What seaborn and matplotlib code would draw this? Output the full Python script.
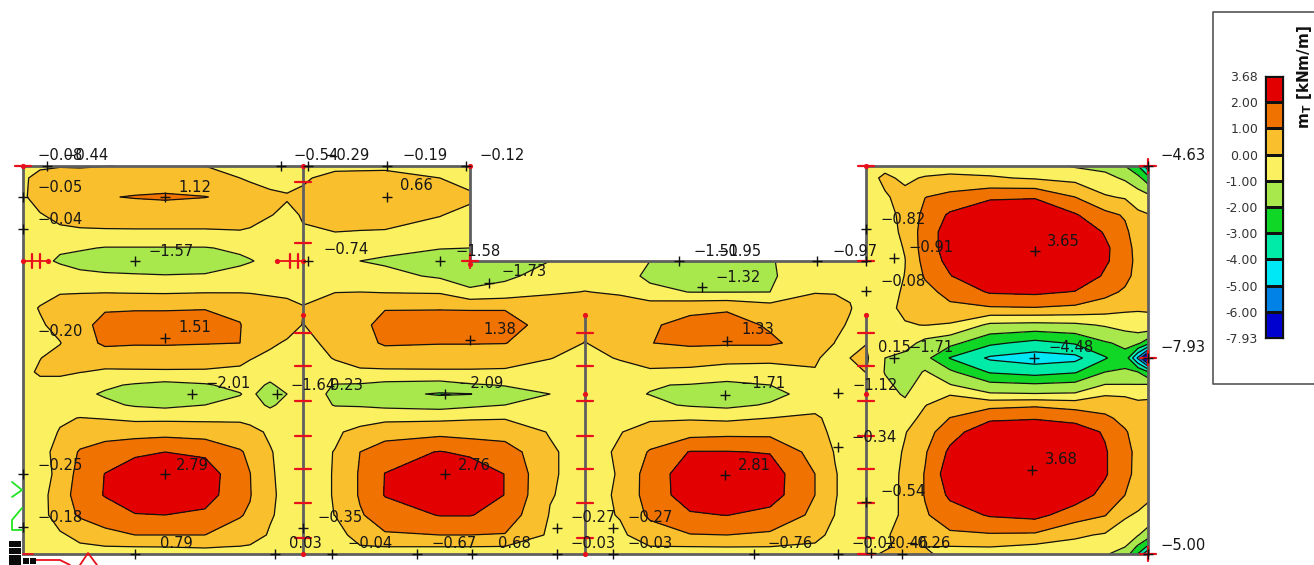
import numpy as np
import matplotlib
matplotlib.use("Agg")
import matplotlib.pyplot as plt
from matplotlib.colors import ListedColormap, BoundaryNorm
import seaborn as sns

N = np.nan
row_y = [166,178,197,215,232,248,261,276,292,308,325,343,358,372,385,394,405,418,432,452,474,495,515,535,547,554]
col_x = [23,40,60,80,105,135,165,205,240,250,270,287,303,335,360,385,440,470,505,550,585,620,650,690,727,770,815,835,850,866,885,905,925,950,990,1035,1075,1105,1125,1138,1148]

c023 = [-.2,-.1,-.1,-.3,-.4,-.5,-.6,-.5,-.4,-.3,-.2,-.2,-.2,-.2,-.3,-.3,-.3,-.3,-.3,-.3,-.3,-.3,-.3,-.3,-.3,-.3]
c040 = [-.1,.2,.3,-.05,-.3,-.6,-.8,-.5,-.3,.05,-.1,-.3,-.02,.1,-.2,-.5,-.5,-.4,-.35,-.3,-.3,-.3,-.3,-.4,-.5,-.5]
c060 = [-.05,.4,.5,.2,-.15,-.9,-1.1,-.6,-.05,.3,.25,-.03,.25,.1,-.2,-.5,-.4,-.1,.05,.3,.2,.45,.4,-.1,-.3,-.4]
c080 = [-.1,.5,.7,.3,-.1,-.9,-1.35,-.75,-.05,.5,.7,.5,.3,.02,-.5,-.8,-.5,.02,.4,1.1,1.4,1.5,1.15,.2,-.1,-.4]
c105 = [-.02,.55,.95,.4,-.1,-1.05,-1.5,-.85,-.05,.9,1.3,1.2,.35,-.1,-.85,-1.1,-.8,-.05,.55,1.5,2.02,2.05,1.55,.7,-.05,-.3]
c135 = [.05,.5,1.05,.45,-.1,-1.05,-1.57,-.9,-.08,.9,1.5,1.1,.4,-.1,-1.1,-1.6,-1.1,-.2,.6,1.8,2.6,2.6,1.95,1.0,-.02,-.3]
c165 = [.1,.5,1.12,.45,-.1,-1.05,-1.57,-.95,-.1,.9,1.51,1.1,.45,-.1,-1.3,-1.95,-1.25,-.2,.65,2.0,2.79,2.7,2.0,1.0,0,-.3]
c205 = [0,.45,1.02,.45,-.1,-1.05,-1.55,-.9,-.05,.95,1.45,1.05,.4,-.1,-1.1,-1.5,-1.0,-.2,.55,1.8,2.55,2.45,1.8,1.0,.05,-.3]
c240 = [-.25,.0,.8,.4,-.05,-.85,-1.15,-.7,-.05,.9,1.02,1.0,.2,-.15,-.7,-1.05,-.7,-.15,.35,1.1,1.3,1.3,1.05,.7,-.05,-.3]
c250 = [-.3,-.15,.55,.3,-.1,-.75,-1.05,-.6,-.05,.55,.85,.5,.05,-.3,-.6,-.75,-.6,-.2,.2,.8,1.02,1.05,.9,.45,-.1,-.35]
c270 = [-.45,-.3,.2,.03,-.3,-.6,-.8,-.5,-.1,.3,.6,.15,-.2,-.5,-1.15,-1.6,-1.15,-.5,-.1,.05,.1,.15,.1,-.1,-.25,-.4]
c287 = [-.45,-.2,.05,-.15,-.35,-.55,-.65,-.4,-.1,.15,.35,-.1,-.35,-.4,-.6,-1.0,-.7,-.4,-.3,-.25,-.25,-.25,-.3,-.35,-.4,-.5]
c303 = [-.4,-.1,.15,.05,-.05,-.35,-.45,-.3,-.1,.02,-.03,-.3,-.4,-.4,-.45,-.5,-.45,-.4,-.3,-.25,-.25,-.25,-.3,-.3,-.3,-.3]
c335 = [-.2,.25,.5,.25,0,-.3,-.45,-.3,-.02,.5,.6,.3,.05,-.3,-1.05,-1.2,-1.05,-.4,-.1,.02,.03,.03,.01,-.3,-.5,-.6]
c360 = [-.2,.3,.6,.3,-.03,-.5,-1.0,-.5,0,.6,.75,.6,.25,-.1,-1.1,-1.4,-1.1,-.3,.2,1.0,1.1,1.1,.9,.3,-.05,-.3]
c385 = [-.2,.35,.66,.3,-.05,-.7,-1.15,-.7,-.05,.95,1.3,1.15,.35,-.1,-1.3,-1.75,-1.25,-.2,.5,1.6,2.02,2.05,1.5,.9,-.02,-.3]
c440 = [-.3,.0,.6,.02,-.2,-.95,-1.58,-1.15,-.1,.95,1.38,1.05,.4,-.1,-1.4,-2.09,-1.4,-.2,.7,2.05,2.76,2.6,2.05,1.0,-.02,-.3]
c470 = [-.5,-.2,.1,-.15,-.5,-1.0,-1.5,-1.5,-.8,.95,1.3,1.05,.4,-.1,-1.1,-2.03,-1.2,-.1,.6,1.8,2.65,2.6,2.05,1.0,-.02,-.3]
c505 = [N,N,N,N,N,N,-1.4,-1.2,-.6,.95,1.3,1.03,.3,-.1,-.95,-1.4,-1.0,-.05,.5,1.55,1.98,1.98,1.6,.95,-.05,-.3]
c550 = [N,N,N,N,N,N,-1.0,-.6,-.1,.5,.7,.4,.02,-.25,-.8,-1.0,-.65,-.2,-.05,.1,.1,.05,-.05,-.15,-.3,-.4]
c585 = [N,N,N,N,N,N,-.6,-.3,.02,.35,.15,-.02,-.2,-.3,-.45,-.5,-.45,-.35,-.3,-.3,-.3,-.3,-.3,-.3,-.3,-.3]
c620 = [N,N,N,N,N,N,-.9,-.6,-.1,.4,.6,.35,.05,-.25,-.8,-.85,-.7,-.2,-.03,.1,.05,.1,.05,-.15,-.3,-.4]
c650 = [N,N,N,N,N,N,-1.0,-1.2,-.75,.6,.9,.98,.3,-.1,-.95,-1.02,-.8,-.1,.3,1.1,1.5,1.5,1.2,.45,-.03,-.3]
c690 = [N,N,N,N,N,N,-1.3,-1.32,-1.02,.8,1.25,1.2,.3,-.15,-1.05,-1.5,-1.1,-.1,.6,2.05,2.5,2.45,1.9,.95,-.03,-.3]
c727 = [N,N,N,N,N,N,-1.5,-1.3,-1.02,.9,1.33,1.15,.15,-.2,-1.3,-1.71,-1.25,-.2,.7,2.05,2.81,2.7,2.02,1.0,0,-.3]
c770 = [N,N,N,N,N,N,-1.02,-1.1,-1.0,.45,.9,1.15,.15,-.25,-1.0,-1.3,-.9,0,.7,1.95,2.5,2.45,1.7,.85,-.02,-.3]
c815 = [N,N,N,N,N,N,-.85,-.5,-.05,.55,.75,.6,.1,-.05,-.5,-.6,-.1,.05,.15,.6,1.0,1.0,.8,.2,-.1,-.4]
c835 = [N,N,N,N,N,N,-.6,-.3,-.05,.3,.2,-.02,-.3,-.45,-.4,-.6,-.3,-.1,-.1,-.05,.05,.05,-.02,-.2,-.3,-.4]
c850 = [N,N,N,N,N,N,-.55,-.3,-.1,.05,-.1,-.05,0,-.3,-.4,-.5,-.3,-.3,-.3,-.3,-.3,-.3,-.3,-.3,-.3,-.3]
c866 = [-.2,-.2,-.3,-.4,-.5,-.6,-.7,-.6,-.5,-.4,-.2,-.02,.15,.02,-.3,-.5,-.6,-.6,-.5,-.45,-.35,-.3,-.27,-.2,-.1,-.1]
c885 = [-.15,.1,-.05,-.25,-.3,-.4,-.5,-.4,-.3,-.2,-.15,-.2,-1.0,-1.05,-.8,-.7,-.7,-.6,-.55,-.5,-.45,-.4,-.3,-.1,-.05,.05]
c905 = [-.3,-.1,.15,.2,.15,.05,-.02,.02,.1,.15,-.05,-.6,-1.3,-1.6,-1.3,-1.1,-.8,-.3,-.05,.1,.2,.2,.15,.3,.1,.05]
c925 = [-.3,.05,.98,1.3,1.5,1.5,1.35,1.1,.7,.4,.02,-1.3,-1.7,-.9,-.6,-.3,-.03,.2,.6,.9,1.05,1.05,.9,.45,0,.05]
c950 = [-.4,.2,1.3,2.15,2.45,2.45,2.3,1.95,1.3,.8,-.1,-1.7,-3.05,-1.8,-.95,-.05,.4,1.02,1.6,2.2,2.6,2.2,1.5,.85,-.05,-.1]
c990 = [-.45,.1,1.8,3.0,3.4,3.5,3.4,3.0,2.1,.9,-1.2,-2.8,-4.15,-3.1,-1.7,-.9,.7,1.8,2.7,3.3,3.5,3.3,2.1,.9,0,-.3]
c1035 = [-.6,-.1,1.9,3.0,3.5,3.65,3.6,3.3,2.2,.95,-1.3,-3.3,-4.48,-3.4,-1.85,-.95,.85,1.9,2.9,3.5,3.68,3.4,2.3,.85,-.25,-.5]
c1075 = [-1.1,-.3,1.0,2.1,2.9,3.2,3.2,2.9,1.95,.8,-1.2,-2.9,-4.3,-3.1,-1.7,-.9,.6,1.7,2.5,3.1,3.2,2.5,1.5,.15,-.3,-.5]
c1105 = [-1.3,-.7,.1,1.3,1.9,2.2,2.15,1.85,1.3,.5,-.9,-2.1,-3.1,-2.0,-.95,-.1,.55,1.2,1.9,2.1,2.1,1.7,1.05,-.1,-.5,-.9]
c1125 = [-2.0,-1.15,-.1,.9,1.2,1.4,1.45,1.3,.85,.2,-.6,-1.8,-2.3,-1.9,-.95,-.1,.3,.7,1.1,1.3,1.3,1.0,.1,-.4,-1.0,-1.4]
c1138 = [-3.0,-1.7,-.5,.2,.5,.65,.7,.65,.45,.1,-.4,-1.8,-5.2,-2.0,-.95,-.2,.15,.35,.6,.75,.7,.4,-.1,-.95,-2.2,-3.05]
c1148 = [-4.63,-2.6,-.7,.05,.3,.4,.45,.4,.2,.05,-.15,-2.6,-7.93,-2.9,-.9,-.05,.05,.2,.35,.4,.35,.15,-.25,-1.5,-3.2,-5.0]
field_cols = [c023,c040,c060,c080,c105,c135,c165,c205,c240,c250,c270,c287,c303,c335,c360,c385,c440,c470,c505,c550,c585,c620,c650,c690,c727,c770,c815,c835,c850,c866,c885,c905,c925,c950,c990,c1035,c1075,c1105,c1125,c1138,c1148]

levels = [-7.93,-6,-5,-4,-3,-2,-1,0,1,2,3.68]
colors = ["#0000cf","#0082e6","#00e8f5","#00eba8","#10d626","#a9e84c","#faf060","#f9bf2d","#f07200","#e30000"]
legend_labels = ["3.68","2.00","1.00","0.00","-1.00","-2.00","-3.00","-4.00","-5.00","-6.00","-7.93"]

value_labels = [
("\u22120.08",37,155),("\u22120.44",63,155),("\u22120.54",293,155),("\u22120.29",324,155),("\u22120.19",402,155),("\u22120.12",479,155),
("\u22124.63",1160,155),("\u22127.93",1160,347),("\u22125.00",1160,545),
("\u22120.05",37,187),("\u22120.04",37,219),("1.12",178,187),("0.66",400,186),("\u22121.57",148,251),("\u22120.74",323,250),("\u22121.58",455,251),
("\u22121.73",501,272),("\u22121.51",693,251),("\u22120.95",716,251),("\u22120.97",832,251),("\u22121.32",715,277),("\u22120.82",880,219),("\u22120.91",908,247),
("\u22120.08",880,281),("3.65",1047,241),("\u22120.20",37,331),("1.51",178,327),("1.38",483,330),("1.33",741,330),("0.15",878,347),("\u22121.71",908,347),
("\u22124.48",1048,347),("\u22122.01",205,384),("\u22121.64",290,385),("0.23",330,385),("\u22122.09",458,384),("\u22121.71",740,384),("\u22121.12",852,385),
("\u22120.34",851,438),("\u22120.54",880,491),("2.79",176,465),("2.76",458,465),("2.81",738,465),("3.68",1045,460),("\u22120.25",37,465),("\u22120.18",37,518),
("\u22120.35",317,518),("\u22120.27",570,518),("\u22120.27",627,518),("0.79",160,544),("0.03",289,544),("\u22120.04",347,544),("\u22120.67",431,544),("0.68",498,544),
("\u22120.03",570,544),("\u22120.03",627,544),("\u22120.76",767,544),("\u22120.02",851,544),("\u22120.46",883,544),("\u22120.26",905,544),
]
plus_x = [47,281,308,387,466,23,23,135,165,387,308,440,489,165,470,727,192,277,445,725,165,445,725,1035,1034,1032,866,894,866,894,838,838,23,23,135,275,332,417,472,557,613,557,613,754,838,871,679,817,702,303,866,902,1148,1148,1148,866]
plus_y = [166,166,166,166,166,197,229,261,197,197,261,261,283,338,340,341,394,394,394,395,474,474,475,251,358,470,229,258,291,358,393,447,474,527,554,554,554,554,554,528,528,554,554,554,554,553,261,261,287,528,502,554,166,358,554,261]

walls = [([23,470,470,866,866,1148,1148,23,23],[166,166,261,261,166,166,554,554,166]),
         ([303,303],[166,554]),([585,585],[315,554]),([866,866],[315,554])]
tick_walls = [303,585,866]
tick_y = [333,366,401,436,469,503,538]
extra_ticks = [(303,182),(303,243),(866,166),(866,261),(1148,166),(1148,358),(1148,554),(23,166),(470,261),(866,554)]
red_dots = [(303,315),(585,315),(866,315),(585,394),(866,394),(303,554),(585,554),(23,166),(303,166),(470,166),(866,166),(23,261),(48,261),(277,261),(303,261),(470,264)]
red_vticks = [(32,261),(40,261),(290,261),(298,261),(1148,166),(1148,358),(1148,554),(470,261)]
red_hruns = [([23,48],[261,261]),([277,303],[261,261]),([23,33],[554,554]),([33,60,70],[560,560,565]),([80,88,97],[565,553,565])]
green_runs = [([12,22,12],[482,490,497]),([22,12,12,22],[508,520,530,530])]
black_squares = [(12,544),(18,544),(12,551),(18,551),(12,558),(18,558),(12,564),(18,564),(26,561),(33,561)]

sns.set_theme(style="white", rc={"axes.facecolor":"white","figure.facecolor":"white"})
plt.rcParams["font.family"] = ["DejaVu Sans"]
fig = plt.figure(figsize=(13.14,5.65), dpi=100)
ax = fig.add_axes([0,0,1,1])
ax.set_xlim(0,1314); ax.set_ylim(565,0); ax.axis("off")

X, Y = np.meshgrid(col_x, row_y)
Z = np.array(field_cols, dtype=float).T
cmap = ListedColormap(colors); norm = BoundaryNorm(levels, cmap.N)
ax.contourf(X, Y, Z, levels=levels, cmap=cmap, norm=norm, corner_mask=False, zorder=1)
ax.contour(X, Y, Z, levels=levels[1:-1], colors="#111111", linewidths=0.9, linestyles="solid", corner_mask=False, zorder=2)

for wx, wy in walls:
    ax.plot(wx, wy, color="#5f5f5f", lw=2.0, zorder=3, solid_joinstyle="miter")
for wx in tick_walls:
    for ty in tick_y:
        ax.plot([wx-8,wx+8],[ty,ty],color="#e8101c",lw=1.6,zorder=4)
for tx, ty in extra_ticks:
    ax.plot([tx-8,tx+8],[ty,ty],color="#e8101c",lw=1.6,zorder=4)
for tx, ty in red_vticks:
    ax.plot([tx,tx],[ty-7,ty+7],color="#e8101c",lw=1.6,zorder=4)
for rx, ry in red_hruns:
    ax.plot(rx, ry, color="#e8101c", lw=1.3, zorder=4)
for rx, ry in green_runs:
    ax.plot(rx, ry, color="#22e422", lw=1.3, zorder=4)
ax.scatter(*zip(*red_dots), s=14, color="#e8101c", zorder=5, linewidths=0)
ax.scatter(*zip(*black_squares), s=22, marker="s", color="#0a0a0a", zorder=6, linewidths=0)
sns.scatterplot(x=plus_x, y=plus_y, marker="+", color="#111111", s=42, linewidth=1.0, ax=ax, zorder=7, legend=False)
ax.set_xlim(0,1314); ax.set_ylim(565,0)

for txt, tx, ty in value_labels:
    ax.text(tx, ty, txt, fontsize=10.6, color="#161616", ha="left", va="center", zorder=8)

# legend panel
ax.plot([1314,1213,1213,1314],[12,12,384,384], color="#555555", lw=1.2, zorder=3)
cax = fig.add_axes([1265/1314, 1-338/565, 18/1314, 262/565])
sns.heatmap(np.arange(len(colors))[::-1].reshape(-1,1), cmap=cmap, cbar=False, linewidths=0.9, linecolor="#111111",
            xticklabels=False, yticklabels=False, ax=cax)
for s in cax.spines.values():
    s.set_visible(True); s.set_color("#111111"); s.set_linewidth(0.9)
cax.set_yticks(np.arange(len(legend_labels)))
cax.set_yticklabels(legend_labels, fontsize=9, color="#333333", rotation=0)
cax.tick_params(axis="y", length=0, pad=5, left=False)
ax.text(1304, 77, r"$\mathbf{m_T}$ [kNm/m]", rotation=90, fontsize=11, fontweight="bold", color="#111111", ha="center", va="center")

fig.savefig("out.png", dpi=100)
